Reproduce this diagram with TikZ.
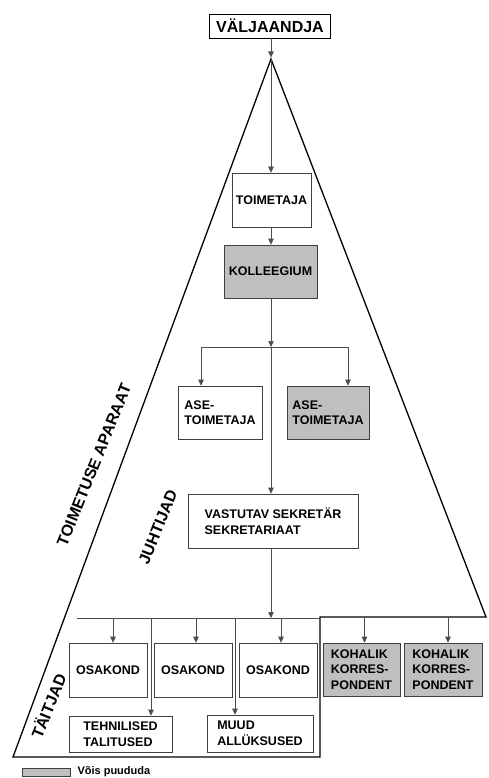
\documentclass[tikz,border=0pt]{standalone}
\usepackage{fontspec}
\setmainfont{Liberation Sans}
\usetikzlibrary{arrows.meta}

\begin{document}
\begin{tikzpicture}[x=1pt,y=-1pt,>={Triangle[length=6pt,width=5.5pt]},
                    font=\bfseries\fontsize{12.5}{15.5}\selectfont]
  \tikzstyle{box}=[draw=black!75,line width=0.6pt,fill=white,align=left,
                   inner sep=0pt,minimum height=53pt]
  \tikzstyle{greybox}=[box,fill=black!25]
  \tikzstyle{link}=[draw=black!70,line width=0.6pt]
  \tikzstyle{outline}=[draw=black,line width=1.3pt,line join=miter]
  \tikzstyle{side}=[font=\bfseries\fontsize{16}{18}\selectfont,rotate=68]

  \useasboundingbox (0,0) rectangle (488,778);

  \node[box,draw=black,line width=0.9pt,minimum width=121pt,minimum height=24pt,
        font=\bfseries\fontsize{16}{18}\selectfont] (valj) at (270,26) {VÄLJAANDJA};
  \node[box,minimum width=79pt,minimum height=54pt]  (toim) at (271.5,200) {TOIMETAJA};
  \node[greybox,minimum width=93pt]                  (kol)  at (270.5,271.5) {KOLLEEGIUM};
  \node[box,minimum width=84pt]                      (ase1) at (220,412.5) {ASE-\\TOIMETAJA};
  \node[greybox,minimum width=82pt]                  (ase2) at (328,412.5) {ASE-\\TOIMETAJA};
  \node[box,minimum width=170pt,minimum height=54pt] (vast) at (273,521) {VASTUTAV SEKRETÄR\\SEKRETARIAAT};
  \node[box,minimum width=78pt,minimum height=54pt]  (osa1) at (108,670) {OSAKOND};
  \node[box,minimum width=78pt,minimum height=54pt]  (osa2) at (193,670) {OSAKOND};
  \node[box,minimum width=78pt,minimum height=54pt]  (osa3) at (278,670) {OSAKOND};
  \node[greybox,minimum width=77pt]                  (koh1) at (361.5,669.5) {KOHALIK\\KORRES-\\PONDENT};
  \node[greybox,minimum width=78pt]                  (koh2) at (443,669.5) {KOHALIK\\KORRES-\\PONDENT};
  \node[box,minimum width=103pt,minimum height=36pt] (teh)  at (120.5,734) {TEHNILISED\\TALITUSED};
  \node[box,minimum width=106pt,minimum height=37pt] (muud) at (260,733.5) {MUUD\\ALLÜKSUSED};

  % pyramid
  \coordinate (apex) at (271,59);
  \coordinate (step) at (320,617);
  \draw[outline] (apex) -- (486,617) -- (step) -- (320,757) -- (13,757) -- cycle;

  \node[side] (aparaat) at (94,465) {TOIMETUSE APARAAT};
  \node[side] (juhtijad) at (158,527) {JUHTIJAD};
  \node[side] (taitjad) at (48,706) {TÄITJAD};

  % connectors
  \coordinate (b1)  at (271,347);
  \coordinate (b1l) at (201,347);
  \coordinate (b1r) at (348,347);
  \coordinate (b2)  at (271,618);
  \coordinate (b2l) at (77,618);
  \coordinate (b2r) at (320,618);
  \coordinate (v1)  at (151,618);
  \coordinate (v2)  at (235,618);

  \draw[link,->,shorten >=1.5pt] (apex |- valj.south) -- (apex);
  \draw[link,->] (apex) -- (apex |- toim.north);
  \draw[link,->] (apex |- toim.south) -- (apex |- kol.north);
  \draw[link,->] (apex |- kol.south) -- (b1);
  \draw[link] (b1l) -- (b1r);
  \draw[link,->] (b1l) -- (b1l |- ase1.north);
  \draw[link,->] (b1r) -- (b1r |- ase2.north);
  \draw[link,->] (b1) -- (b1 |- vast.north);
  \draw[link,->] (b1 |- vast.south) -- (b2);
  \draw[link] (b2l) -- (b2r);
  \foreach \n/\s in {osa1/5,osa2/3,osa3/3}
    \draw[link,->] ([xshift=\s pt]\n.north |- b2) -- ([xshift=\s pt]\n.north);
  \foreach \n/\s in {koh1/3,koh2/5}
    \draw[link,->] ([xshift=\s pt]\n.north |- step) -- ([xshift=\s pt]\n.north);
  \draw[link,->] (v1) -- (v1 |- teh.north);
  \draw[link,->] (v2) -- (v2 |- muud.north);

  % legend
  \node[greybox,minimum width=48pt,minimum height=8pt] (key) at (46,772) {};
  \node[anchor=west,inner sep=0pt,font=\bfseries\fontsize{11}{13}\selectfont]
       (keytext) at ([xshift=7pt]key.east) {Võis puududa};
\end{tikzpicture}
\end{document}
